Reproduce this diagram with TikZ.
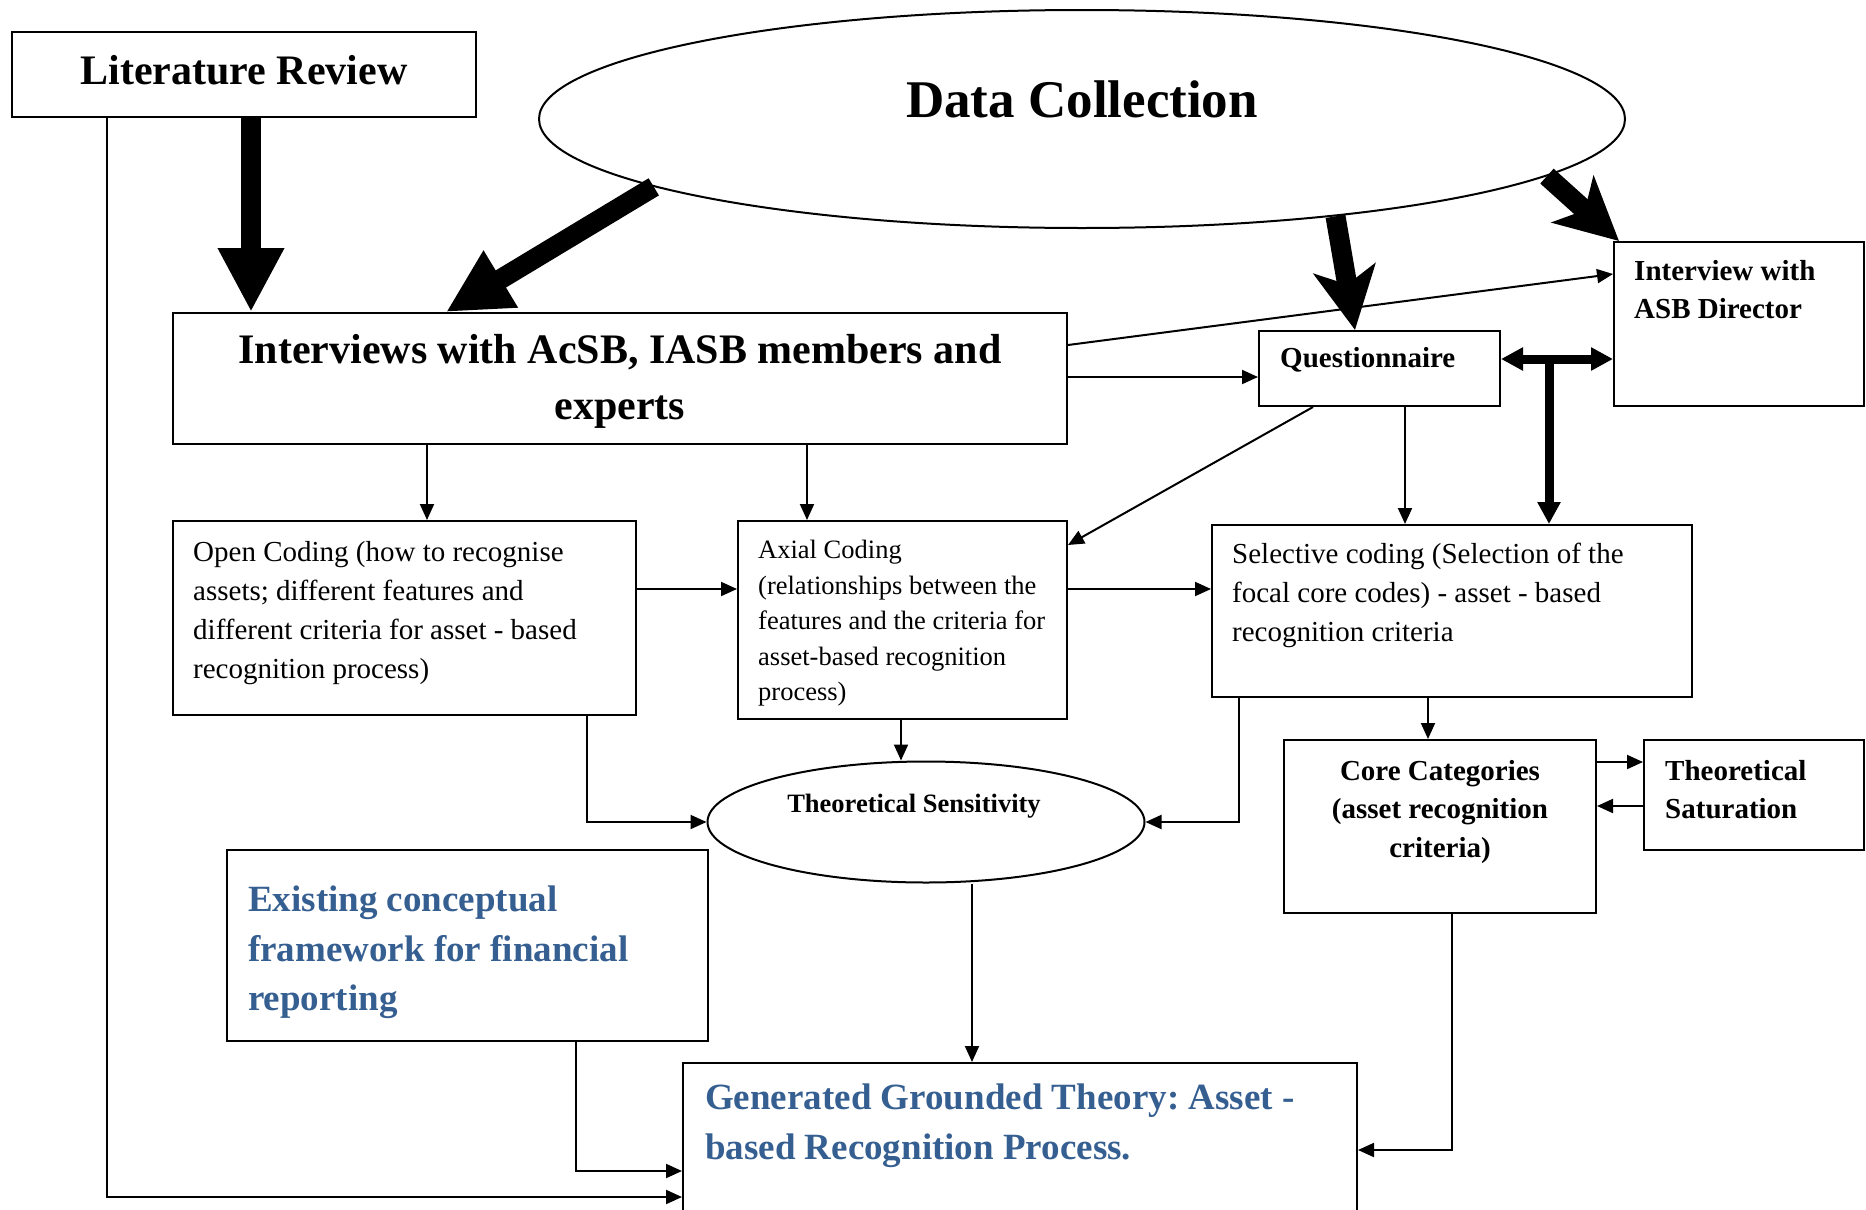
\documentclass[tikz,border=0pt]{standalone}
\usepackage{fontspec}
\setmainfont{Liberation Serif}
\usetikzlibrary{arrows.meta,shapes.geometric}
\definecolor{headblue}{RGB}{54,95,145}
\frenchspacing

\begin{document}
\begin{tikzpicture}[x=1pt,y=-1pt,
  box/.style={draw,line width=2pt,rectangle,inner sep=0pt,anchor=center},
  oval/.style={draw,line width=2pt,ellipse,inner sep=0pt,anchor=center},
  txt/.style={inner sep=0pt,anchor=north west,align=left},
  ctxt/.style={inner sep=0pt,anchor=north,align=center},
  f53/.style={font=\fontsize{53}{64}\selectfont\bfseries},
  f42/.style={font=\fontsize{42}{56}\selectfont\bfseries},
  f37/.style={font=\fontsize{37}{49.5}\selectfont\bfseries,text=headblue},
  f29b/.style={font=\fontsize{29}{38.5}\selectfont\bfseries},
  f29/.style={font=\fontsize{29}{39}\selectfont},
  f26/.style={font=\fontsize{26.5}{35.5}\selectfont},
  f26b/.style={font=\fontsize{26.5}{35.5}\selectfont\bfseries},
  conn/.style={line width=2pt,-{Triangle[length=16pt,width=14pt]}},
  heavy/.style={line width=20pt,-{Triangle[length=64pt,width=62pt]}},
  heavys/.style={line width=20pt,-{Stealth[length=62pt,width=62pt,inset=16pt]}},
  medium/.style={line width=9pt,{Triangle[length=22pt,width=22pt]}-{Triangle[length=22pt,width=22pt]}},
  mediumend/.style={line width=9pt,-{Triangle[length=22pt,width=22pt]}}
]
\clip (0,0) rectangle (1866,1210);
\fill[white] (0,0) rectangle (1866,1210);

% helper columns and rows used to place connector ends
\foreach \c in {107,251,427,446,576,587,807,901,972,1239,1313,1355,1405,1428,1452,1549}
  {\coordinate (c\c) at (\c,0);}
\foreach \r in {274,345,359,377,545,589,762,806,1150,1171,1197}
  {\coordinate (r\r) at (0,\r);}

% ---- shapes ----
\node[box,minimum width=464pt,minimum height=85pt] (lit) at (244,74.5) {};
\node[f42,inner sep=0pt] (litT) at (244,70) {Literature Review};

\node[oval,minimum width=1086pt,minimum height=218pt] (dc) at (1082,119) {};
\node[f53,inner sep=0pt] (dcT) at (1082,99) {Data Collection};

\node[box,minimum width=894pt,minimum height=131pt] (iv) at (620,378.5) {};
\node[ctxt,f42] (ivT) at (620,334) {Interviews with AcSB, IASB members and\\experts};

\node[box,minimum width=241pt,minimum height=75pt] (q) at (1379.5,368.5) {};
\node[f29b,inner sep=0pt,anchor=west] (qT) at (1280,360) {Questionnaire};

\node[box,minimum width=250pt,minimum height=164pt] (asb) at (1739,324) {};
\node[txt,f29b] (asbT) at (1634,260) {Interview with\\ASB Director};

\node[box,minimum width=463pt,minimum height=194pt] (oc) at (404.5,618) {};
\node[txt,f29] (ocT) at (193,541) {Open Coding (how to recognise\\assets; different features and\\different criteria for asset - based\\recognition process)};

\node[box,minimum width=329pt,minimum height=198pt] (ax) at (902.5,620) {};
\node[txt,f26] (axT) at (758,540) {Axial Coding\\(relationships between the\\features and the criteria for\\asset-based recognition\\process)};

\node[box,minimum width=480pt,minimum height=172pt] (sel) at (1452,611) {};
\node[txt,f29] (selT) at (1232,543) {Selective coding (Selection of the\\focal core codes) - asset - based\\recognition criteria};

\node[oval,minimum width=437pt,minimum height=121pt] (ts) at (926,822) {};
\node[f26b,inner sep=0pt] (tsT) at (914,806) {Theoretical Sensitivity};

\node[box,minimum width=312pt,minimum height=173pt] (core) at (1440,826.5) {};
\node[ctxt,f29b] (coreT) at (1440,760) {Core Categories\\(asset recognition\\criteria)};

\node[box,minimum width=220pt,minimum height=110pt] (sat) at (1754,795) {};
\node[txt,f29b] (satT) at (1665,760) {Theoretical\\Saturation};

\node[box,minimum width=481pt,minimum height=191pt] (ex) at (467.5,945.5) {};
\node[txt,f37] (exT) at (248,886) {Existing conceptual\\framework for financial\\reporting};

\node[box,minimum width=674pt,minimum height=197pt] (gen) at (1020,1161.5) {};
\node[txt,f37] (genT) at (705,1084) {Generated Grounded Theory: Asset -\\based Recognition Process.};

% ---- heavy arrows from the sources ----
\draw[heavy] (lit.south -| c251) -- (iv.north -| c251);
\draw[heavy] (dc.189) -- (iv.north -| c446);
\draw[heavys] (dc.-21.5) -- (q.north -| c1355);
\draw[heavys] (dc.-7.1) -- ([xshift=6pt]asb.north west);

% ---- questionnaire / director link ----
\draw[medium] (q.east |- r359) -- (asb.west |- r359);
\draw[mediumend] (c1549 |- r359) -- (sel.north -| c1549);

% ---- thin connectors ----
\draw[conn] (iv.east |- r345) -- (asb.west |- r274);
\draw[conn] (iv.east |- r377) -- (q.west |- r377);
\draw[conn] (iv.south -| c427) -- (oc.north -| c427);
\draw[conn] (iv.south -| c807) -- (ax.north -| c807);
\draw[conn] (q.south -| c1313) -- (ax.east |- r545);
\draw[conn] (q.south -| c1405) -- (sel.north -| c1405);
\draw[conn] (oc.east |- r589) -- (ax.west |- r589);
\draw[conn] (ax.east |- r589) -- (sel.west |- r589);
\draw[conn] (ax.south -| c901) -- (ts.north -| c901);
\draw[conn] (oc.south -| c587) |- (ts.west);
\draw[conn] (sel.south -| c1239) |- (ts.east);
\draw[conn] (sel.south -| c1428) -- (core.north -| c1428);
\draw[conn] (core.east |- r762) -- (sat.west |- r762);
\draw[conn] (sat.west |- r806) -- (core.east |- r806);
\draw[conn] (ts.south -| c972) -- (gen.north -| c972);
\draw[conn] (core.south -| c1452) |- (gen.east |- r1150);
\draw[conn] (ex.south -| c576) |- (gen.west |- r1171);
\draw[conn] (lit.south -| c107) |- (gen.west |- r1197);
\end{tikzpicture}
\end{document}
